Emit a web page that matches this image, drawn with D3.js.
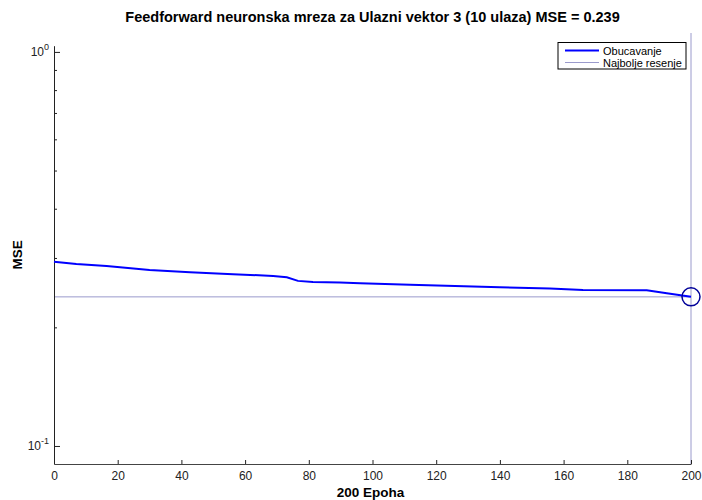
<!DOCTYPE html>
<html>
<head>
<meta charset="utf-8">
<script src="https://cdn.jsdelivr.net/npm/d3@7"></script>
<style>
  body { margin: 0; background: #fff; }
  text { font-family: "Liberation Sans", Arial, sans-serif; }
</style>
</head>
<body>
<div id="chartContainer"></div>
<script>
// training performance (epoch, MSE)
const epochs = [0, 7, 16.5, 30, 42.7, 56.2, 68.8, 73.1, 76.6, 81.3, 89.8, 96.1, 111.8, 140, 155.7, 166.1, 186.1, 192.4, 200];
const mse = [0.2936, 0.2896, 0.2863, 0.2797, 0.276, 0.2728, 0.2701, 0.2681, 0.2624, 0.2608, 0.2598, 0.2588, 0.2567, 0.2529, 0.2508, 0.2489, 0.2485, 0.2442, 0.239];
const bestEpoch = 200,
  bestMse = 0.239;
const xTicks = [0, 20, 40, 60, 80, 100, 120, 140, 160, 180, 200];
const yMajor = [0.1, 1];
const yMinor = [0.2, 0.3, 0.4, 0.5, 0.6, 0.7, 0.8, 0.9];
const legendLabels = ["Obucavanje", "Najbolje resenje"];
const titleText = "Feedforward neuronska mreza za Ulazni vektor 3 (10 ulaza) MSE = 0.239";

// plot area edges
const W = 702,
  H = 500,
  pLeft = 54,
  pRight = 691,
  pTop = 45.7,
  pBottom = 464,
  blue = "#0000ff",
  bestColor = "#9a9acc";

const svg = d3.select("#chartContainer").append("svg").attr("width", W).attr("height", H);

const x = d3.scaleLinear().domain([0, 200]).range([pLeft, pRight]);
const y = d3.scaleLog().domain([0.09, 1.037]).range([pBottom, pTop]);

// best value lines
svg
  .append("line")
  .attr("x1", x(0))
  .attr("x2", x(200))
  .attr("y1", y(bestMse))
  .attr("y2", y(bestMse))
  .attr("stroke", bestColor)
  .attr("stroke-width", 1);
svg
  .append("line")
  .attr("x1", x(bestEpoch))
  .attr("x2", x(bestEpoch))
  .attr("y1", 33)
  .attr("y2", pBottom)
  .attr("stroke", bestColor)
  .attr("stroke-width", 1);

// axes
const xAxis = svg
  .append("g")
  .attr("transform", "translate(0," + pBottom + ")")
  .call(d3.axisBottom(x).tickValues(xTicks).tickSizeInner(-4).tickSizeOuter(0).tickPadding(7));
xAxis.select(".domain").attr("stroke", "#444");
xAxis.selectAll(".tick line").attr("stroke", "#222");
xAxis.selectAll("text").style("font-size", "12px").attr("fill", "#222");

const yAxis = svg
  .append("g")
  .attr("transform", "translate(" + pLeft + ",0)")
  .call(d3.axisLeft(y).tickValues(yMinor).tickSizeInner(-3).tickSizeOuter(0).tickFormat(""));
yAxis.select(".domain").attr("stroke", "#222");
yAxis.selectAll(".tick line").attr("stroke", "#222");

const yMaj = svg
  .append("g")
  .attr("transform", "translate(" + pLeft + ",0)")
  .call(d3.axisLeft(y).tickValues(yMajor).tickSizeInner(-6).tickSizeOuter(0).tickFormat(""));
yMaj.select(".domain").remove();
yMaj.selectAll(".tick line").attr("stroke", "#222");

const yLab = svg
  .selectAll(".ylab")
  .data(yMajor)
  .enter()
  .append("text")
  .attr("class", "ylab")
  .attr("x", pLeft - 5)
  .attr("y", (d) => y(d) + 4)
  .attr("text-anchor", "end")
  .style("font-size", "12px")
  .attr("fill", "#222");
yLab.append("tspan").text("10");
yLab
  .append("tspan")
  .attr("dy", -6)
  .style("font-size", "9px")
  .text((d) => Math.round(Math.log10(d)));

// training line
const line = d3
  .line()
  .x((d, i) => x(epochs[i]))
  .y((d) => y(d));
svg.append("path").datum(mse).attr("d", line).attr("fill", "none").attr("stroke", blue).attr("stroke-width", 2);

// best point
svg
  .append("circle")
  .attr("cx", x(bestEpoch))
  .attr("cy", y(bestMse))
  .attr("r", 9)
  .attr("fill", "none")
  .attr("stroke", "#000099")
  .attr("stroke-width", 1.5);

// titles
svg
  .append("text")
  .attr("x", (pLeft + pRight) / 2)
  .attr("y", 22)
  .attr("text-anchor", "middle")
  .style("font-size", "14.5px")
  .style("font-weight", "bold")
  .text(titleText);
svg
  .append("text")
  .attr("x", (pLeft + pRight) / 2 - 2)
  .attr("y", 497)
  .attr("text-anchor", "middle")
  .style("font-size", "13.5px")
  .style("font-weight", "bold")
  .text("200 Epoha");
svg
  .append("text")
  .attr("transform", "translate(22," + (pTop + pBottom) / 2 + ") rotate(-90)")
  .attr("text-anchor", "middle")
  .style("font-size", "13.5px")
  .style("font-weight", "bold")
  .text("MSE");

// legend
const legend = svg.append("g").attr("transform", "translate(558,42.5)");
legend.append("rect").attr("width", 128).attr("height", 26.5).attr("fill", "#fff").attr("stroke", "#000").attr("stroke-width", 1);
legend
  .selectAll(".lg")
  .data(legendLabels)
  .enter()
  .append("line")
  .attr("x1", 7)
  .attr("x2", 41)
  .attr("y1", (d, i) => 8 + i * 12)
  .attr("y2", (d, i) => 8 + i * 12)
  .attr("stroke", (d, i) => (i === 0 ? blue : bestColor))
  .attr("stroke-width", (d, i) => (i === 0 ? 2 : 1));
legend
  .selectAll(".lt")
  .data(legendLabels)
  .enter()
  .append("text")
  .attr("x", 45)
  .attr("y", (d, i) => 12 + i * 12)
  .style("font-size", "11px")
  .text((d) => d);
</script>
</body>
</html>
